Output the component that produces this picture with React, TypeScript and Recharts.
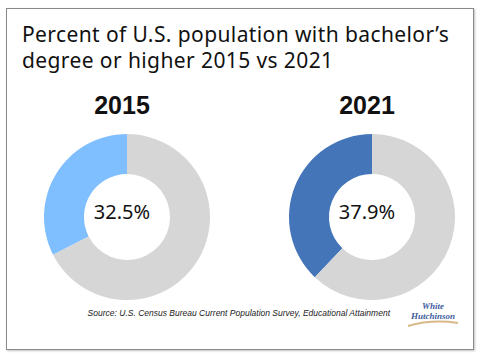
import { Pie, PieChart, Cell } from "recharts";

const years = ["2015", "2021"];
const degreeShare = [32.5, 37.9];
const sliceNames = ["Bachelor's degree or higher", "Other"];
const yearColors = ["#80bfff", "#4475b8"];
const restColor = "#d6d6d6";

const titleLines = [
  "Percent of U.S. population with bachelor’s",
  "degree or higher 2015 vs 2021",
];
const sourceNote = "Source: U.S. Census Bureau Current Population Survey, Educational Attainment";
const logoLines = ["White", "Hutchinson"];

const centers = [122, 367];
const cy = 212;

export default function App() {
  return (
    <div style={{ position: "absolute", left: 0, top: 0, width: 480, height: 356, background: "#fff" }}>
      <div
        style={{
          position: "absolute",
          left: 6,
          top: 8,
          width: 466,
          height: 340,
          border: "1.5px solid #8a8a8a",
          boxShadow: "1px 1px 2px rgba(0,0,0,0.25)",
        }}
      />
      <div
        style={{
          position: "absolute",
          left: 22,
          top: 21,
          fontFamily: "'Noto Sans', sans-serif",
          fontSize: 21,
          lineHeight: "26px",
          letterSpacing: 0.4,
          color: "#111",
          whiteSpace: "nowrap",
        }}
      >
        {titleLines.map((t) => (
          <div key={t}>{t}</div>
        ))}
      </div>
      <div style={{ position: "absolute", left: 0, top: 0 }}>
        <PieChart width={480} height={356}>
          {years.map((year, i) => (
            <Pie
              key={year}
              data={[
                { name: sliceNames[0], value: degreeShare[i] },
                { name: sliceNames[1], value: +(100 - degreeShare[i]).toFixed(1) },
              ]}
              dataKey="value"
              cx={centers[i]}
              cy={cy}
              innerRadius={43}
              outerRadius={83}
              startAngle={90}
              endAngle={450}
              stroke="none"
              isAnimationActive={false}
            >
              <Cell fill={yearColors[i]} />
              <Cell fill={restColor} />
            </Pie>
          ))}
          {years.map((year, i) => (
            <text
              key={"p" + year}
              x={centers[i]}
              y={cy + 7}
              textAnchor="middle"
              fontFamily="'Noto Sans', sans-serif"
              fontSize={20}
              fill="#111"
            >
              {`${degreeShare[i]}%`}
            </text>
          ))}
          {years.map((year, i) => (
            <text
              key={"y" + year}
              x={centers[i]}
              y={114}
              textAnchor="middle"
              fontFamily="'Liberation Sans', Arial, sans-serif"
              fontWeight="bold"
              fontSize={25}
              fill="#111"
            >
              {year}
            </text>
          ))}
          <text
            x={390}
            y={316}
            textAnchor="end"
            fontFamily="'Liberation Sans', Arial, sans-serif"
            fontStyle="italic"
            fontSize={8.5}
            fill="#222"
          >
            {sourceNote}
          </text>
          {logoLines.map((t, i) => (
            <text
              key={t}
              x={433}
              y={309 + i * 10}
              textAnchor="middle"
              fontFamily="'Liberation Serif', serif"
              fontStyle="italic"
              fontWeight="bold"
              fontSize={9}
              fill="#3d5c9e"
            >
              {t}
            </text>
          ))}
          <path d="M408 326 Q432 319 458 323" stroke="#d9b98a" strokeWidth={2} fill="none" />
        </PieChart>
      </div>
    </div>
  );
}
